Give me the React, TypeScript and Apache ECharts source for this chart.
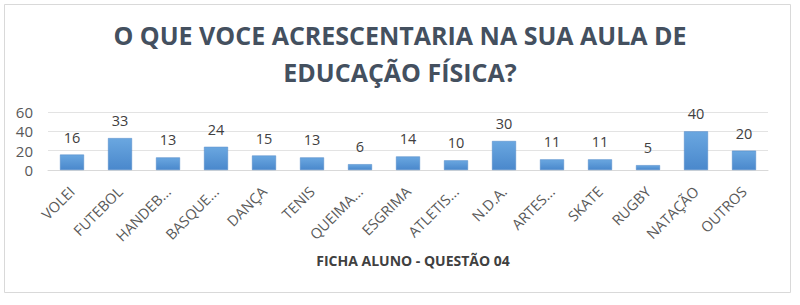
import React, { useEffect, useRef } from "react";
import * as echarts from "echarts";

const categories = [
  "VOLEI", "FUTEBOL", "HANDEB...", "BASQUE...", "DANÇA", "TENIS", "QUEIMA...",
  "ESGRIMA", "ATLETIS...", "N.D.A.", "ARTES...", "SKATE", "RUGBY", "NATAÇÃO", "OUTROS",
];
const values = [16, 33, 13, 24, 15, 13, 6, 14, 10, 30, 11, 11, 5, 40, 20];
const yTicks = { min: 0, max: 60, interval: 20 };
const titleText = "O QUE VOCE ACRESCENTARIA NA SUA AULA DE\nEDUCAÇÃO FÍSICA?";
const axisTitle = "FICHA ALUNO - QUESTÃO 04";

export default function App() {
  const ref = useRef<HTMLDivElement>(null);
  useEffect(() => {
    document.body.style.margin = "0";
    const chart = echarts.init(ref.current!, null, { renderer: "svg" });
    const font = "'Open Sans', sans-serif";
    chart.setOption({
      animation: false,
      backgroundColor: "#ffffff",
      title: [
        {
          text: titleText,
          left: "center",
          top: 11,
          textStyle: {
            fontFamily: font,
            fontSize: 25,
            fontWeight: "bold",
            color: "#44505F",
            lineHeight: 37,
          },
        },
        {
          text: axisTitle,
          left: 408,
          textAlign: "center",
          top: 248,
          textStyle: {
            fontFamily: font,
            fontSize: 14,
            fontWeight: "bold",
            color: "#404040",
          },
        },
      ],
      graphic: [
        {
          type: "rect",
          shape: { x: 4.5, y: 4.5, width: 786, height: 288 },
          style: { fill: "none", stroke: "#d9d9d9", lineWidth: 1 },
          silent: true,
          z: -1,
        },
      ],
      grid: { left: 48, right: 32, top: 112, bottom: 135, containLabel: false },
      xAxis: {
        type: "category",
        data: categories,
        axisLine: { lineStyle: { color: "#d9d9d9" } },
        axisTick: { show: false },
        axisLabel: {
          rotate: 45,
          interval: 0,
          margin: 19,
          fontFamily: font,
          fontSize: 14.5,
          color: "#595959",
        },
      },
      yAxis: {
        type: "value",
        min: yTicks.min,
        max: yTicks.max,
        interval: yTicks.interval,
        axisLine: { show: false },
        axisTick: { show: false },
        splitLine: { lineStyle: { color: "#e3e3e3" } },
        axisLabel: {
          margin: 15,
          fontFamily: font,
          fontSize: 15,
          color: "#595959",
        },
      },
      series: [
        {
          type: "bar",
          data: values,
          barWidth: "50%",
          itemStyle: {
            color: new echarts.graphic.LinearGradient(0, 0, 0, 1, [
              { offset: 0, color: "#6AA7E0" },
              { offset: 1, color: "#4A88CC" },
            ]),
            borderColor: "#4F86C6",
            borderWidth: 0.5,
          },
          label: {
            show: true,
            position: "top",
            distance: 10,
            fontFamily: font,
            fontSize: 14.5,
            color: "#404040",
          },
        },
      ],
    });
    return () => chart.dispose();
  }, []);
  return <div ref={ref} style={{ width: 800, height: 305 }} />;
}
